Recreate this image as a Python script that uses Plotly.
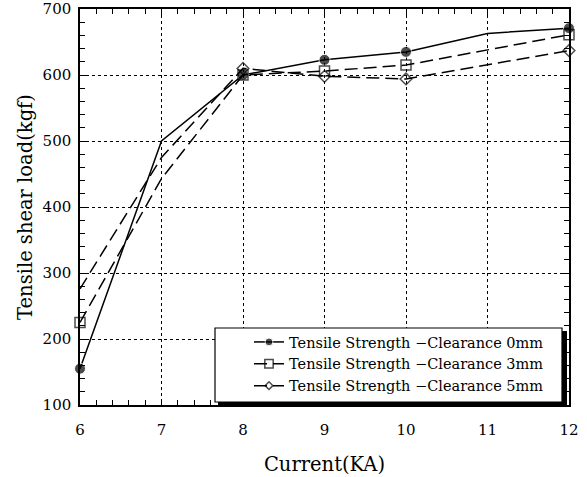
import plotly.graph_objects as go

# ---- data ----
current_0mm = [6, 7, 8, 9, 10, 11, 12]
load_0mm = [155, 500, 600, 623, 635, 663, 671]
current_3mm = [6, 7, 8, 9, 10, 12]
load_3mm = [225, 443, 600, 606, 615, 661]
current_5mm = [6, 7, 8, 9, 10, 12]
load_5mm = [276, 475, 610, 598, 594, 637]
names = ["Tensile Strength −Clearance 0mm",
         "Tensile Strength −Clearance 3mm",
         "Tensile Strength −Clearance 5mm"]
x_ticks = [6, 7, 8, 9, 10, 11, 12]
y_ticks = [100, 200, 300, 400, 500, 600, 700]

FONT = "DejaVu Serif"

def sizes(xs, hidden, s):
    return [0 if x in hidden else s for x in xs]

fig = go.Figure()
fig.add_trace(go.Scatter(
    x=current_0mm, y=load_0mm, name=names[0], mode="lines+markers",
    line=dict(color="black", width=1.5),
    marker=dict(symbol="circle", size=sizes(current_0mm, (7, 11), 11), color="black"),
    cliponaxis=False))
fig.add_trace(go.Scatter(
    x=current_3mm, y=load_3mm, name=names[1], mode="lines+markers",
    line=dict(color="black", width=1.5, dash="13px,6px"),
    marker=dict(symbol="square-open", size=sizes(current_3mm, (7,), 10), color="black",
                line=dict(width=1.5)),
    cliponaxis=False))
fig.add_trace(go.Scatter(
    x=current_5mm, y=load_5mm, name=names[2], mode="lines+markers",
    line=dict(color="black", width=1.5, dash="13px,6px"),
    marker=dict(symbol="diamond-open", size=sizes(current_5mm, (6, 7), 9), color="black",
                line=dict(width=1.5)),
    cliponaxis=False))

axis_common = dict(
    showline=True, linecolor="black", linewidth=1.5, mirror="ticks",
    ticks="inside", ticklen=6, tickwidth=1, tickcolor="black",
    showgrid=True, gridcolor="black", gridwidth=1, griddash="dot",
    zeroline=False, automargin=False, ticklabeloverflow="allow",
    tickfont=dict(family=FONT, size=15, color="black"),
)

fig.update_xaxes(
    range=[6, 12], tickvals=x_ticks, ticktext=[str(v) for v in x_ticks],
    minor=dict(dtick=0.2, ticks="inside", ticklen=5, tickcolor="black", showgrid=False),
    title=dict(text="Current(KA)", font=dict(family=FONT, size=19.5, color="black"), standoff=20),
    ticklabelstandoff=10,
    **axis_common)
fig.update_yaxes(
    range=[100, 700], tickvals=y_ticks, ticktext=[str(v) for v in y_ticks],
    minor=dict(dtick=20, ticks="inside", ticklen=5, tickcolor="black", showgrid=False),
    title=dict(text="Tensile shear load(kgf)", font=dict(family=FONT, size=19.5, color="black"), standoff=5),
    ticklabelstandoff=4,
    **axis_common)

# plot area in page pixels: x 80..569, y 9..405
def px_x(p):
    return (p - 80) / 489
def px_y(p):
    return (405 - p) / 396

fig.add_shape(type="rect", xref="paper", yref="paper", layer="above",
              x0=px_x(560), x1=px_x(567), y0=px_y(406), y1=px_y(331),
              fillcolor="black", line=dict(width=0))
fig.add_shape(type="rect", xref="paper", yref="paper", layer="above",
              x0=px_x(218), x1=px_x(567), y0=px_y(406), y1=px_y(401),
              fillcolor="black", line=dict(width=0))
fig.add_shape(type="rect", xref="paper", yref="paper", layer="above",
              x0=px_x(215), x1=px_x(562), y0=px_y(402), y1=px_y(328),
              fillcolor="white", line=dict(color="black", width=1.2))

fig.update_layout(
    width=587, height=477,
    margin=dict(l=80, r=18, t=9, b=72),
    paper_bgcolor="white", plot_bgcolor="white",
    font=dict(family=FONT, color="black"),
    showlegend=True,
    legend=dict(x=px_x(249), y=px_y(326), xanchor="left", yanchor="top",
                bgcolor="rgba(0,0,0,0)", borderwidth=0,
                font=dict(family=FONT, size=14.5, color="black"),
                tracegroupgap=0, itemwidth=30),
)

fig.write_html("out.html", config={"displayModeBar": False},
               post_script="document.body.style.margin='0px';")
